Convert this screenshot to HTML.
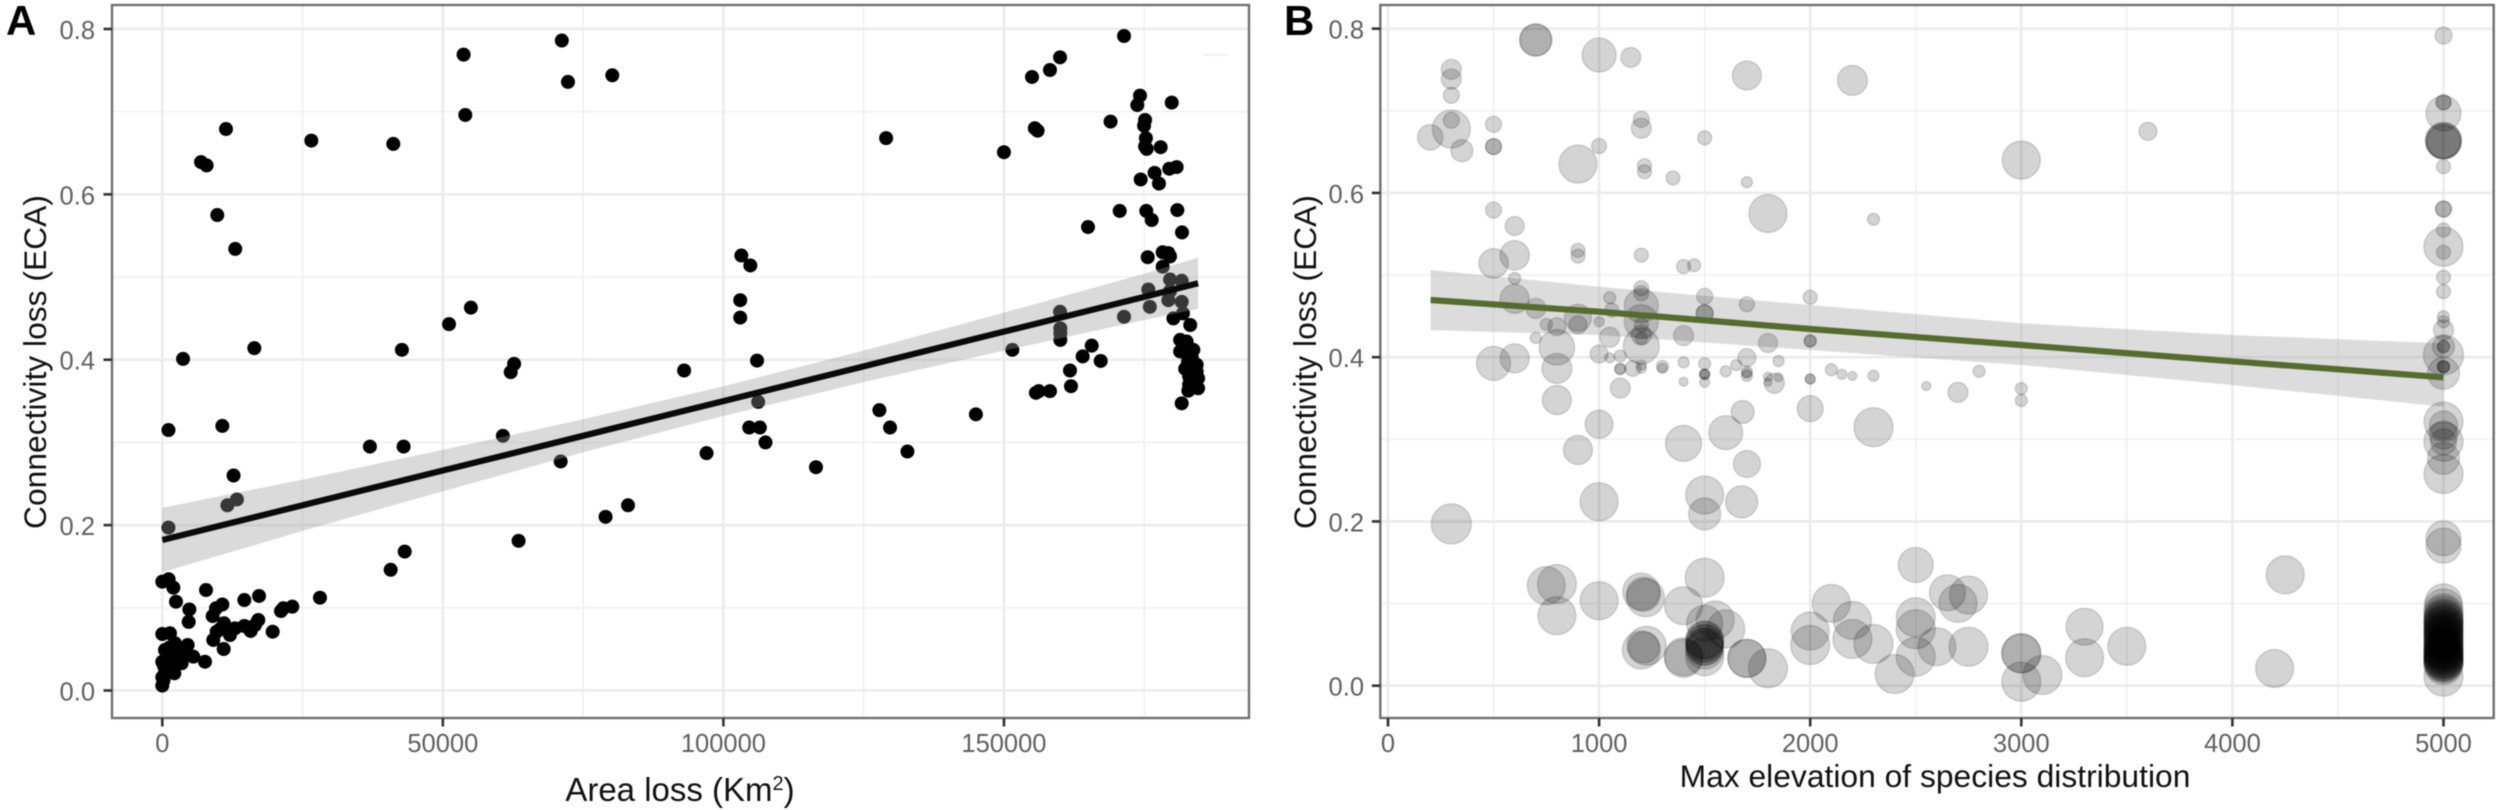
<!DOCTYPE html>
<html lang="en">
<head>
<meta charset="utf-8">
<title>Connectivity loss versus area loss and elevation</title>
<style>
html,body{margin:0;padding:0;background:#fff;}
#figure{display:block;width:2500px;height:810px;filter:blur(.6px);font-family:"Liberation Sans",sans-serif;}
.tick-label{font-size:25.5px;fill:#606060;}
.axis-title{font-size:31.8px;fill:#111;}
.panel-tag{font-size:42px;font-weight:bold;fill:#000;}
</style>
</head>
<body>
<svg id="figure" xmlns="http://www.w3.org/2000/svg" width="2500" height="810" viewBox="0 0 2500 810">
  <rect x="0" y="0" width="2500" height="810" fill="#fff"/>
  <g id="panelA"></g>
  <g id="panelB"></g>
  <text class="panel-tag" x="6" y="35">A</text>
  <text class="panel-tag" x="1284" y="35">B</text>
  <text class="axis-title" transform="translate(46,362) rotate(-90)" text-anchor="middle">Connectivity loss (ECA)</text>
  <text class="axis-title" transform="translate(1316,362) rotate(-90)" text-anchor="middle">Connectivity loss (ECA)</text>
  <text class="axis-title" x="680" y="801" text-anchor="middle" style="font-size:33px">Area loss (Km<tspan dy="-11" font-size="20">2</tspan><tspan dy="11">)</tspan></text>
  <text class="axis-title" x="1935" y="787" text-anchor="middle">Max elevation of species distribution</text>
</svg>
<script>
// ---------- Panel A data ----------
const areaLoss = [
11350,6900,7900,9800,13000,26560,41170,53700,54000,71200,
72300,80200,55000,51100,42700,37000,43000,40700,43200,60700,
62700,62100,63500,71000,79000,83000,93000,97000,103000,103000,
103200,104800,104600,106000,106200,106500,107500,116500,127800,129700,
132800,129000,145000,150000,151500,155000,155500,156000,155700,156200,
171400,160000,158200,174250,173770,179900,169000,175150,174970,175300,
175150,175440,177930,180780,179470,176850,174370,177630,180900,170630,
175370,176330,164980,181730,178290,179300,175620,179600,178290,179600,
181680,175730,179600,171400,160000,160050,160050,160050,165640,164030,
167240,161770,161950,158200,176000,179300,181680,181900,180200,183200,
181400,182560,181400,183750,182300,184350,184350,184600,183200,184600,
182860,181680,183500,182800,183300,183800,183000,183600,184000,183000,
0,1130,1970,2440,4820,4700,7790,9570,10700,8980,
14620,17240,28100,23170,21570,21150,19670,17110,16520,15750,
14620,12960,12060,11000,10280,9690,9090,10940,7610,5530,
4520,4050,3450,2140,1370,0,2260,480,1300,0,
800,1900,1300,500,0,200,0,2500,1000,300,
1100,1100,3700,10700,12700,13300,11600,16400,3000,700];
const areaEca = [
.679,.639,.635,.575,.534,.665,.661,.769,.696,.786,
.736,.744,.463,.443,.412,.295,.295,.146,.168,.308,
.395,.385,.181,.277,.21,.224,.387,.287,.472,.451,
.526,.514,.318,.399,.349,.318,.30,.27,.339,.318,
.289,.668,.334,.651,.412,.742,.68,.677,.36,.362,
.7915,.7657,.7504,.7194,.708,.711,.688,.690,.683,.668,
.658,.655,.657,.633,.631,.626,.618,.613,.581,.580,
.580,.569,.5605,.554,.530,.529,.524,.525,.5125,.497,
.4955,.485,.483,.452,.458,.438,.432,.424,.417,.404,
.3985,.387,.368,.362,.464,.472,.470,.456,.450,.442,
.424,.422,.410,.412,.389,.394,.3855,.3775,.3755,.3655,
.3626,.3473,.402,.398,.388,.384,.380,.372,.368,.37,
.1316,.1345,.1244,.1074,.098,.083,.1215,.0994,.104,.090,
.1094,.1143,.1122,.1014,.0994,.0961,.0711,.0853,.0792,.072,
.078,.0752,.0671,.0813,.074,.0711,.0611,.0502,.0348,.0409,
.055,.045,.0329,.0208,.0692,.0683,.0571,.049,.052,.0348,
.041,.043,.031,.022,.016,.012,.006,.034,.035,.03,
.315,.197,.401,.32,.26,.231,.224,.414,.044,.025];
const fitAreaX = [0,25000,50000,75000,100000,125000,150000,175000,184600];
const fitAreaLine = [.182,.224,.266,.308,.350,.392,.434,.476,.4925];
const fitAreaUpper = [.221,.255,.291,.328,.368,.411,.457,.504,.5235];
const fitAreaLower = [.143,.193,.241,.288,.332,.373,.411,.448,.4615];
const areaMajorTicks = [0,50000,100000,150000];
const areaMinorGrid = [25000,75000,125000,175000];
const ecaMajorTicks = [0,.2,.4,.6,.8];
const ecaMinorGrid = [.1,.3,.5,.7];

// ---------- Panel B data ----------
const elevation = [
300,300,300,300,300,200,350,500,500,500,
700,700,1000,1150,900,1000,1200,1200,1215,1215,
1350,500,600,600,500,900,900,1200,1400,600,
600,700,750,800,900,900,1000,1050,1060,1200,
1200,1200,1200,1200,1200,1200,1200,1050,700,800,
800,800,600,500,1000,1050,1100,1100,1100,1160,
1200,1200,1300,1300,1100,1000,900,1000,300,1500,
1500,1500,1700,2000,1400,1800,2000,2000,1700,1850,
1650,1400,1500,1500,1500,1500,1500,1400,1600,1700,
1700,1700,1800,1800,1830,1850,2000,2000,2100,2150,
2200,2300,2550,2700,2800,3000,3000,1680,1600,1400,
1700,1500,1500,1675,2000,2300,3000,3600,2300,1800,
1700,2200,1700,1500,1450,750,800,800,1000,1200,
1210,1220,1400,1200,1225,1212,1400,1500,1500,1550,
1600,1500,1500,1500,1500,1500,1400,1700,1700,1800,
2000,2000,2100,2200,2200,2300,2400,2500,2500,2500,
2500,2600,2650,2700,2750,2750,3000,3000,3000,3100,
3300,3300,3500,4200,4250,1500,1500,1500];
const elevationEca = [
.7504,.7387,.7188,.6778,.6885,.6677,.6514,.6835,.6564,.6564,
.7862,.7862,.7679,.7651,.6352,.6571,.6787,.6896,.6331,.6258,
.6182,.5792,.5597,.524,.5143,.53,.523,.5243,.5102,.496,
.471,.4595,.44,.437,.448,.4392,.4432,.4724,.4574,.4839,
.4778,.4627,.4432,.4392,.427,.4229,.4136,.4242,.4233,.412,
.3864,.3478,.3986,.3925,.4039,.3992,.4014,.3856,.3856,.3864,
.3904,.3864,.3864,.3888,.3624,.3183,.287,.224,.197,.4741,
.4534,.4534,.4644,.4729,.4262,.4173,.4197,.4197,.3994,.3953,
.3904,.3937,.392,.3792,.3792,.3792,.3694,.3701,.3828,.3824,
.3804,.3772,.3763,.3694,.3682,.3755,.3734,.3734,.3847,.3792,
.3772,.3774,.3649,.3572,.3828,.3617,.3472,.3333,.3081,.2951,
.27,.2322,.2091,.2238,.3373,.3147,.64,.675,.568,.575,
.613,.737,.743,.667,.512,.1218,.1238,.0852,.1035,.1145,
.1113,.1072,.0974,.0435,.0487,.0467,.0333,.1315,.076,.08,
.069,.0556,.0516,.0475,.0435,.0353,.0353,.0333,.0333,.0212,
.0666,.0495,.1003,.0796,.0569,.0508,.0142,.147,.0833,.0687,
.0353,.0475,.1132,.1003,.1104,.0475,.0394,.0394,.0049,.013,
.0718,.0341,.048,.021,.135,.0516,.0475,.0556];
const speciesRange = [
100,100,80,190,80,127,110,80,80,80,
160,160,170,100,190,75,100,80,70,70,
70,80,95,147,147,70,70,70,70,60,
145,100,60,90,135,90,50,60,70,75,
75,170,170,70,100,60,180,100,55,177,
150,145,145,170,90,50,60,55,55,80,
50,50,50,60,100,140,145,190,200,80,
85,85,75,70,100,95,60,60,90,55,
55,55,60,50,50,50,50,45,55,55,
50,55,45,40,100,45,50,50,60,50,
45,55,45,100,60,60,60,115,170,180,
135,190,160,160,130,195,190,90,60,190,
55,150,145,70,65,190,195,190,190,185,
170,190,190,190,195,155,190,195,180,190,
190,190,190,185,190,190,190,190,190,195,
190,195,190,190,195,195,195,175,195,195,
195,190,180,190,190,195,195,195,195,195,
185,190,190,190,190,185,185,185];
const cappedElevation = 5000;
const cappedEca = [
.7915,.7103,.7103,.6969,.6636,.6636,.6624,.6624,.632,.5804,
.5804,.5548,.5345,.5277,.4973,.4798,.4493,.4432,.4331,.4128,
.4128,.4128,.4027,.3884,.3884,.3884,.3804,.3215,.3174,.3053,
.2971,.2971,.2769,.2578,.1795,.1705,.1015,.0942,.0881,.082,
.078,.0739,.0678,.0638,.0577,.0516,.0455,.0414,.0374,.0333,
.0292,.0252,.011,.086,.08,.076,.072,.07,.066,.062,
.06,.056,.054,.05,.048,.044,.043,.04,.038,.035,
.033,.031,.03,.027];
const cappedRange = [
85,75,75,175,180,180,165,175,70,80,
80,70,195,70,70,70,60,60,100,110,
60,60,200,60,60,60,160,195,140,140,
195,130,160,195,175,175,185,195,195,195,
195,195,195,195,195,195,195,195,195,195,
195,195,195,190,195,190,195,190,195,190,
195,190,195,190,195,190,195,190,195,190,
195,190,195,190];
const fitElevX = [202,1000,2000,3000,4000,5000];
const fitElevLine = [.4696,.4554,.4343,.4148,.395,.3755];
const fitElevUpper = [.5062,.4858,.4635,.4413,.427,.4169];
const fitElevLower = [.433,.427,.4087,.3905,.366,.3397];
const elevMajorTicks = [0,1000,2000,3000,4000,5000];
const elevMinorGrid = [500,1500,2500,3500,4500];

// ---------- Axis functions ----------
const xA = v => 162.3 + v * 0.005611;
const yA = v => 690.5 - v * 826.9;
const xB = v => 1388 + v * 0.2111;
const yB = v => 685.7 - v * 821.3;
const rB = v => v / 10;

const NS = 'http://www.w3.org/2000/svg';
function mk(parent, tag, attrs, text) {
  const el = document.createElementNS(NS, tag);
  for (const k in attrs) el.setAttribute(k, attrs[k]);
  if (text !== undefined) el.textContent = text;
  parent.appendChild(el);
  return el;
}
function band(xs, up, lo, fx, fy) {
  const top = xs.map((x, i) => fx(x) + ',' + fy(up[i]));
  const bot = xs.map((x, i) => fx(x) + ',' + fy(lo[i])).reverse();
  return top.concat(bot).join(' ');
}
function poly(xs, ys, fx, fy) {
  return xs.map((x, i) => fx(x) + ',' + fy(ys[i])).join(' ');
}

function drawFrame(g, box, fx, fy, xMaj, xMin, yMaj, yMin, prefix) {
  const L = box.l, R = box.r, T = box.t, B = box.b;
  xMin.forEach(v => {
    const el = mk(g, 'line', {x1: fx(v), x2: fx(v), y1: T, y2: B, stroke: '#f0f0f0', 'stroke-width': 1.6});
    
    
  });
  yMin.forEach(v => {
    const el = mk(g, 'line', {x1: L, x2: R, y1: fy(v), y2: fy(v), stroke: '#f0f0f0', 'stroke-width': 1.6});
    
    
  });
  xMaj.forEach(v => {
    const el = mk(g, 'line', {x1: fx(v), x2: fx(v), y1: T, y2: B, stroke: '#ebebeb', 'stroke-width': 2.6});
    
    
  });
  yMaj.forEach(v => {
    const el = mk(g, 'line', {x1: L, x2: R, y1: fy(v), y2: fy(v), stroke: '#ebebeb', 'stroke-width': 2.6});
    
    
  });
}
function drawAxes(g, box, fx, fy, xMaj, yMaj, xFmt, yFmt, labelRight, prefix) {
  const L = box.l, R = box.r, T = box.t, B = box.b;
  const border = mk(g, 'rect', {x: L, y: T, width: R - L, height: B - T, fill: 'none', stroke: '#707070', 'stroke-width': 2.4});
  
  
  xMaj.forEach(v => {
    const t = mk(g, 'line', {x1: fx(v), x2: fx(v), y1: B, y2: B + 8.5, stroke: '#333', 'stroke-width': 2.6});
    
    
    const l = mk(g, 'text', {x: fx(v), y: 752, 'text-anchor': 'middle', class: 'tick-label'}, xFmt(v));
    
    
  });
  yMaj.forEach(v => {
    const t = mk(g, 'line', {x1: L - 8.5, x2: L, y1: fy(v), y2: fy(v), stroke: '#333', 'stroke-width': 2.6});
    
    
    const l = mk(g, 'text', {x: labelRight, y: fy(v) + 10, 'text-anchor': 'end', class: 'tick-label'}, yFmt(v));
    
    
  });
}

// ---------- Panel A ----------
const gA = document.getElementById('panelA');
const boxA = {l: 112, r: 1249, t: 5, b: 718};
drawFrame(gA, boxA, xA, yA, areaMajorTicks, areaMinorGrid, ecaMajorTicks, ecaMinorGrid, 'panel-a');
const smudge = mk(gA, 'line', {x1: 1202, x2: 1228, y1: 55, y2: 55, stroke: '#eeeeee', 'stroke-width': 1.5});


areaLoss.forEach((x, i) => {
  const c = mk(gA, 'circle', {cx: xA(x), cy: yA(areaEca[i]), r: 7, fill: '#000'});
  
  
});
const ribA = mk(gA, 'polygon', {points: band(fitAreaX, fitAreaUpper, fitAreaLower, xA, yA), fill: '#999', 'fill-opacity': .36});


const lineA = mk(gA, 'polyline', {points: poly(fitAreaX, fitAreaLine, xA, yA), fill: 'none', stroke: '#0a0a0a', 'stroke-width': 6.2});


drawAxes(gA, boxA, xA, yA, areaMajorTicks, ecaMajorTicks, v => String(v), v => v.toFixed(1), 95, 'panel-a');

// ---------- Panel B ----------
const gB = document.getElementById('panelB');
const boxB = {l: 1380.3, r: 2493.7, t: 5, b: 718};
drawFrame(gB, boxB, xB, yB, elevMajorTicks, elevMinorGrid, ecaMajorTicks, ecaMinorGrid, 'panel-b');
const ribB = mk(gB, 'polygon', {points: band(fitElevX, fitElevUpper, fitElevLower, xB, yB), fill: '#999', 'fill-opacity': .34});


function bubble(x, y, s) {
  const c = mk(gB, 'circle', {cx: xB(x), cy: yB(y), r: rB(s), fill: '#000', 'fill-opacity': .17, stroke: '#000', 'stroke-opacity': .14, 'stroke-width': 1.5});
  
  
}
elevation.forEach((x, i) => bubble(x, elevationEca[i], speciesRange[i]));
cappedEca.forEach((y, i) => bubble(cappedElevation, y, cappedRange[i]));
const lineB = mk(gB, 'polyline', {points: poly(fitElevX, fitElevLine, xB, yB), fill: 'none', stroke: '#556b2f', 'stroke-width': 6.2});


drawAxes(gB, boxB, xB, yB, elevMajorTicks, ecaMajorTicks, v => String(v), v => v.toFixed(1), 1364, 'panel-b');
</script>
</body>
</html>
